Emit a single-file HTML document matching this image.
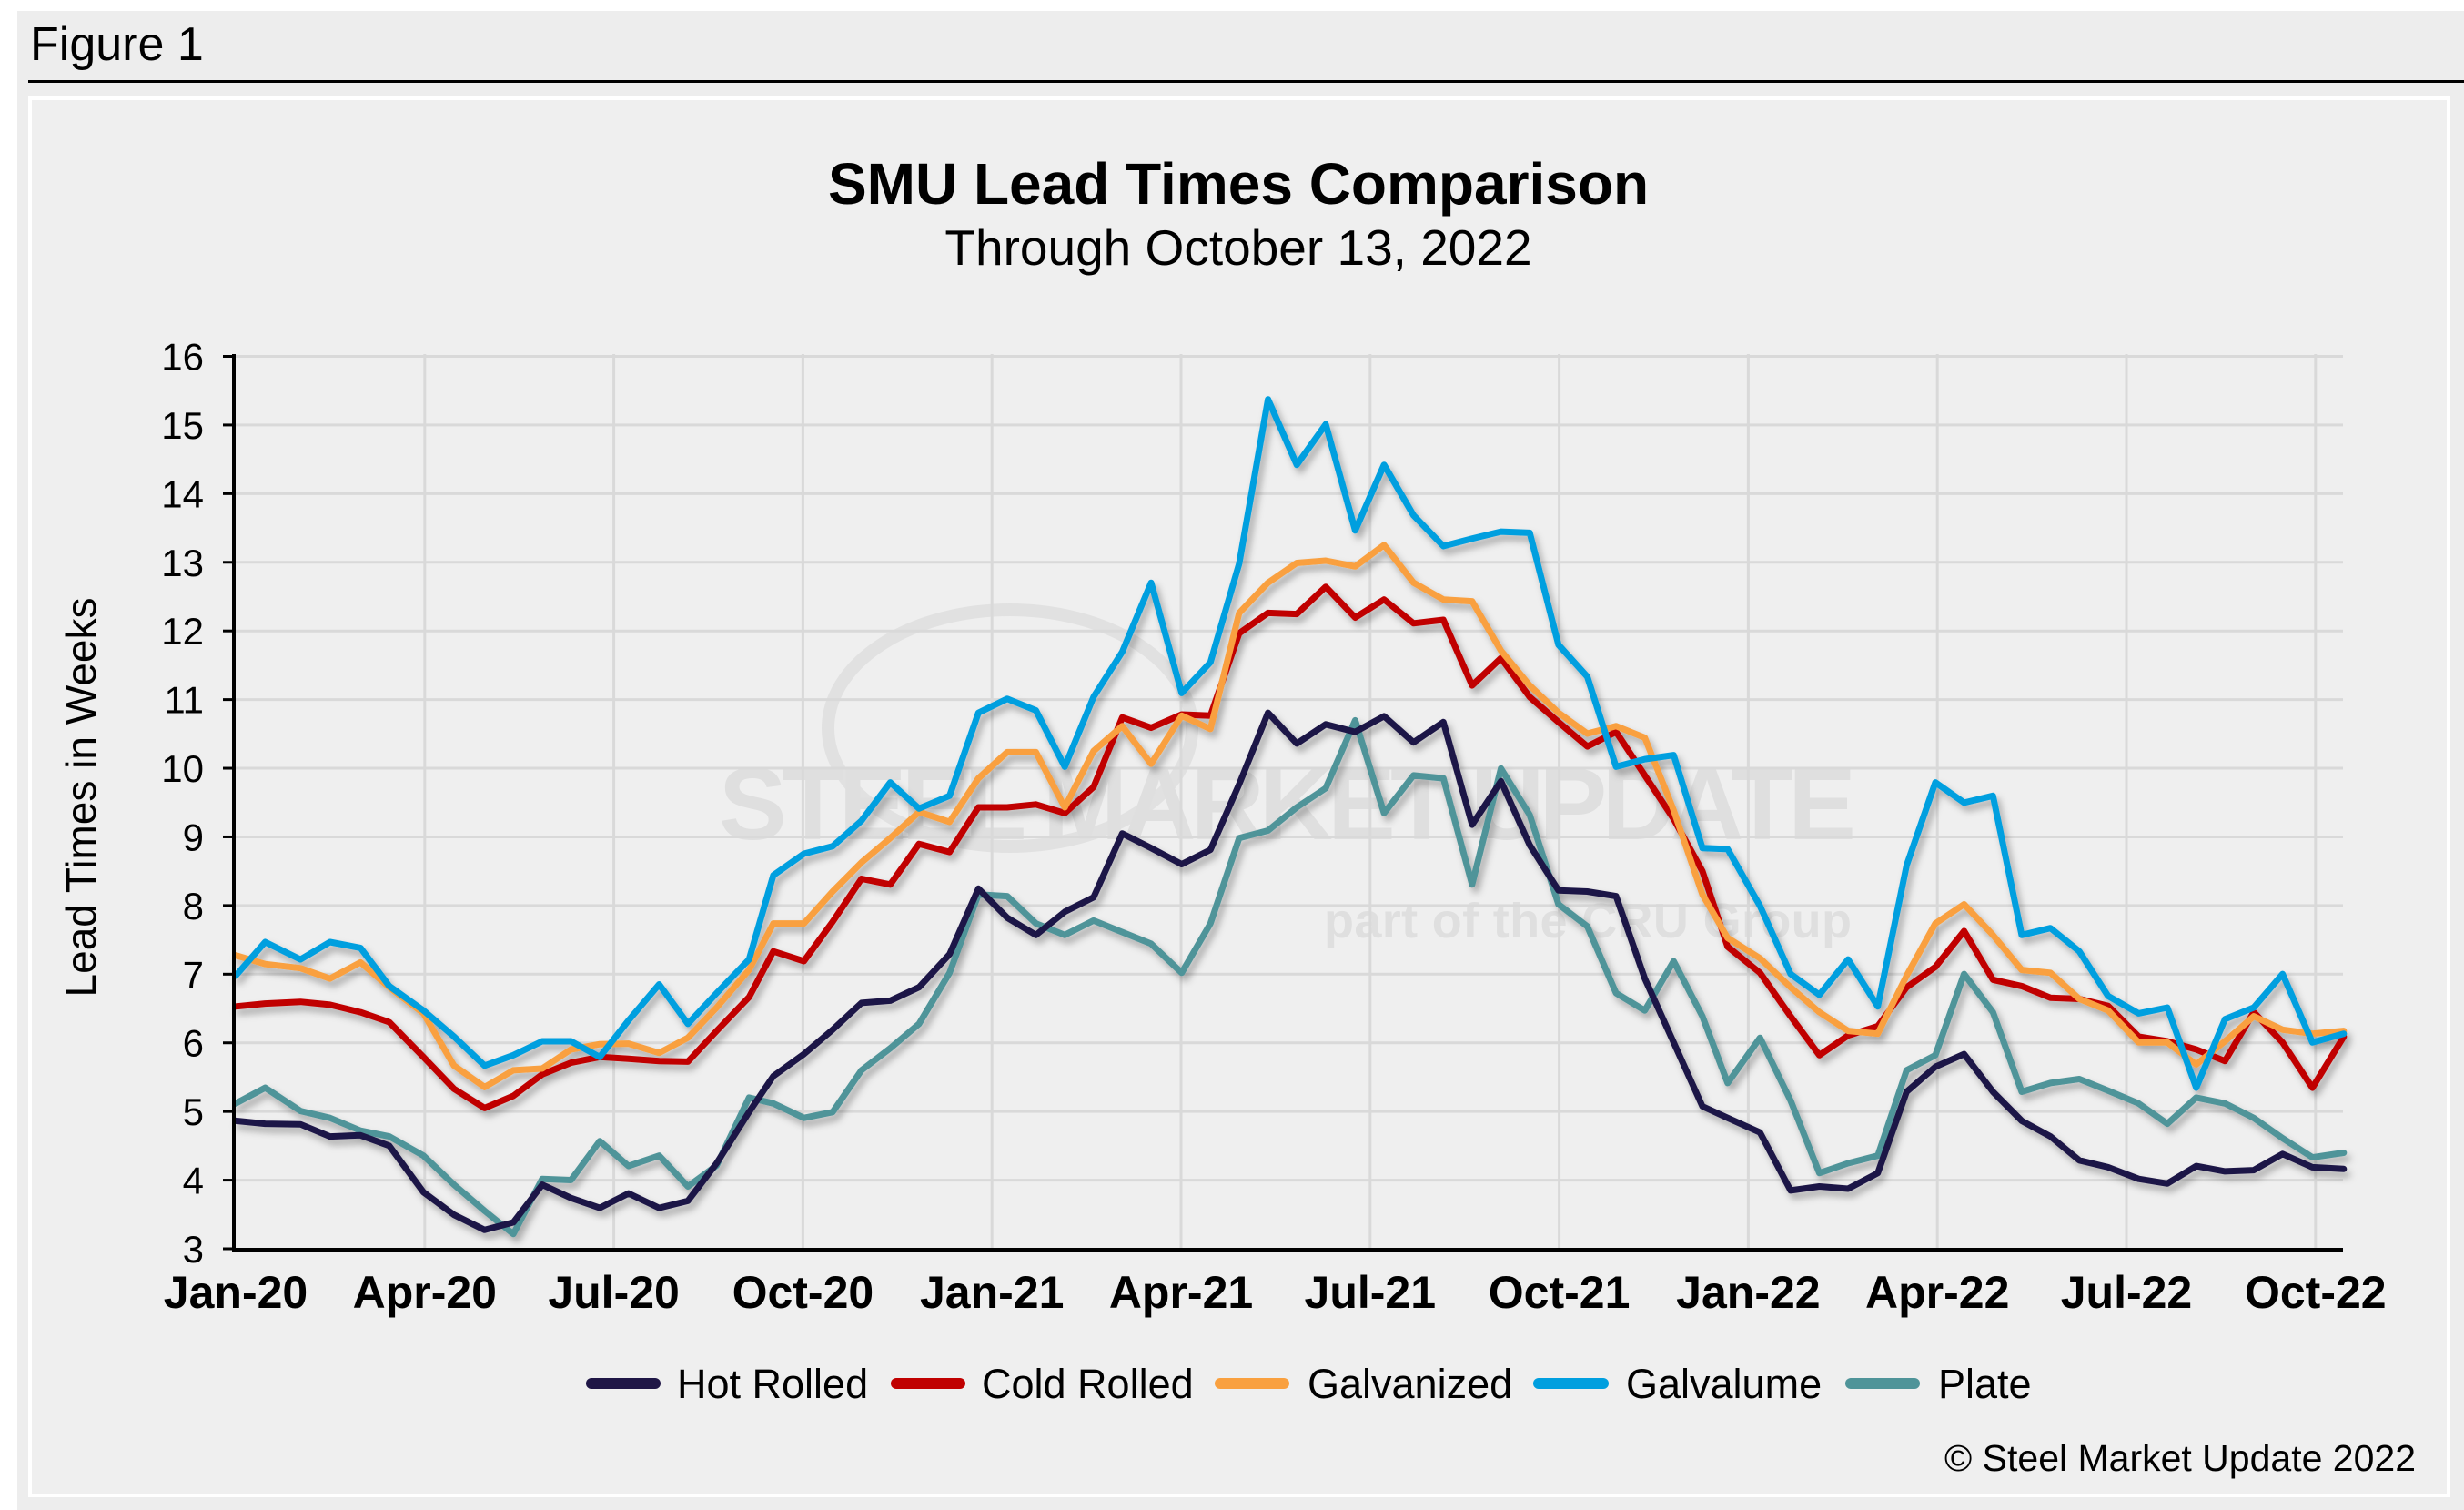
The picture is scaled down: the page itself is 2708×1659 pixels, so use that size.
<!DOCTYPE html>
<html><head><meta charset="utf-8"><style>
html,body{margin:0;padding:0;background:#fff;}
svg{display:block;}
text{font-family:"Liberation Sans",Arial,sans-serif;}
</style></head><body>
<svg id="s" width="2708" height="1659" viewBox="0 0 2708 1659" xmlns="http://www.w3.org/2000/svg">
<defs>
<filter id="sh" x="-5%" y="-5%" width="110%" height="110%">
<feDropShadow dx="4" dy="6" stdDeviation="4" flood-color="#000" flood-opacity="0.3"/>
</filter>
</defs>
<rect x="19" y="12" width="2689" height="1647" fill="#ededed"/>
<text x="33" y="66" font-size="52" fill="#000">Figure 1</text>
<rect x="31" y="88" width="2677" height="3" fill="#000"/>
<rect x="33" y="108" width="2658" height="1535" fill="#efefef" stroke="#fff" stroke-width="4"/>
<text x="1361" y="224" font-size="64" font-weight="bold" text-anchor="middle" fill="#000">SMU Lead Times Comparison</text>
<text x="1361" y="291" font-size="55" text-anchor="middle" fill="#000">Through October 13, 2022</text>
<!-- watermark -->
<g opacity="0.55">
<ellipse cx="1110" cy="800" rx="200" ry="130" fill="none" stroke="#d6d6d6" stroke-width="14"/>
<text x="790" y="922" font-size="112" font-weight="bold" fill="#d3d3d3" textLength="1250">STEEL MARKET UPDATE</text>
<text x="1455" y="1030" font-size="54" font-weight="bold" fill="#d3d3d3" textLength="580">part of the CRU Group</text>
</g>
<g id="grid"></g>
<g id="series" filter="url(#sh)"></g>
<line x1="257" y1="389" x2="257" y2="1373" stroke="#000" stroke-width="4"/>
<line x1="255" y1="1373" x2="2575" y2="1373" stroke="#000" stroke-width="4"/>
<text x="0" y="0" font-size="46" text-anchor="middle" transform="translate(105,876) rotate(-90)">Lead Times in Weeks</text>
<g id="ylab" font-size="42" text-anchor="end"></g>
<g id="xlab" font-size="50" font-weight="bold" text-anchor="middle"></g>
<g font-size="45" fill="#000">
<line x1="650" y1="1520" x2="720" y2="1520" stroke="#1f1646" stroke-width="12" stroke-linecap="round"/>
<text x="744" y="1536">Hot Rolled</text>
<line x1="985" y1="1520" x2="1055" y2="1520" stroke="#c00000" stroke-width="12" stroke-linecap="round"/>
<text x="1079" y="1536">Cold Rolled</text>
<line x1="1341" y1="1520" x2="1411" y2="1520" stroke="#f9a03f" stroke-width="12" stroke-linecap="round"/>
<text x="1437" y="1536">Galvanized</text>
<line x1="1691" y1="1520" x2="1762" y2="1520" stroke="#009fdf" stroke-width="12" stroke-linecap="round"/>
<text x="1787" y="1536">Galvalume</text>
<line x1="2034" y1="1520" x2="2104" y2="1520" stroke="#4f9499" stroke-width="12" stroke-linecap="round"/>
<text x="2130" y="1536">Plate</text>
</g>
<text x="2655" y="1616" font-size="41" text-anchor="end">© Steel Market Update 2022</text>
</svg>
<script>
var NS="http://www.w3.org/2000/svg";
function el(t,a,p){var e=document.createElementNS(NS,t);for(var k in a)e.setAttribute(k,a[k]);p.appendChild(e);return e;}
var grid=document.getElementById('grid'),yl=document.getElementById('ylab'),xl=document.getElementById('xlab');
var y0=1372,dy=(1372-391.5)/13;
for(var v=3;v<=16;v++){var y=y0-(v-3)*dy;
 if(v>3)el('line',{x1:257,y1:y,x2:2575,y2:y,stroke:'#d9d9d9','stroke-width':3},grid);
 el('line',{x1:245,y1:y,x2:257,y2:y,stroke:'#000','stroke-width':3},grid);
 var t=el('text',{x:224,y:y+15},yl);t.textContent=v;}
var labs=["Jan-20","Apr-20","Jul-20","Oct-20","Jan-21","Apr-21","Jul-21","Oct-21","Jan-22","Apr-22","Jul-22","Oct-22"];
var sp=207.8;
for(var i=0;i<12;i++){var x=259+i*sp;
 if(i>0)el('line',{x1:x,y1:389,x2:x,y2:1373,stroke:'#d9d9d9','stroke-width':3},grid);
 var t=el('text',{x:x,y:1437},xl);t.textContent=labs[i];}
var Z={
2:{x0:240,d:{
hr:[[48,1335],[130,1340],[228,1341],[310,1362],[395,1360],[475,1378],[570,1458],[655,1497],[740,1523],[820,1510],[900,1445],[980,1468],[1060,1485],[1140,1460],[1225,1485],[1305,1473],[1385,1408],[1475,1320]],
cr:[[48,1138],[130,1133],[228,1130],[310,1135],[395,1148],[475,1165],[570,1225],[655,1280],[740,1313],[820,1292],[900,1255],[980,1235],[1060,1225],[1140,1228],[1225,1232],[1305,1233],[1385,1180],[1475,1122]],
ga:[[48,1050],[130,1065],[228,1072],[310,1090],[395,1062],[475,1105],[570,1150],[655,1240],[740,1277],[820,1248],[900,1245],[980,1212],[1060,1203],[1140,1202],[1225,1218],[1305,1192],[1385,1140],[1475,1075]],
gl:[[48,1085],[130,1027],[228,1057],[310,1027],[395,1037],[475,1103],[570,1145],[655,1190],[740,1240],[820,1222],[900,1198],[980,1198],[1060,1225],[1140,1162],[1225,1100],[1305,1168],[1385,1115],[1475,1057]],
pl:[[48,1305],[130,1278],[228,1318],[310,1330],[395,1352],[475,1362],[570,1395],[655,1445],[740,1490],[820,1530],[900,1435],[980,1437],[1060,1370],[1140,1413],[1225,1395],[1305,1448],[1385,1412],[1475,1295]]}},
3:{x0:840,d:{
hr:[[25,1258],[110,1220],[190,1178],[270,1132],[350,1128],[430,1105],[515,1048],[595,935],[675,985],[755,1015],[835,975],[915,950],[995,840],[1075,865],[1160,893],[1240,868],[1320,755],[1400,632],[1480,685]],
cr:[[25,1043],[110,1060],[190,992],[270,918],[350,928],[430,858],[515,872],[595,795],[675,795],[755,790],[835,805],[915,760],[995,640],[1075,658],[1160,635],[1240,637],[1320,495],[1400,460],[1480,462]],
ga:[[25,995],[110,995],[190,940],[270,890],[350,848],[430,803],[515,820],[595,745],[675,700],[755,700],[835,795],[915,698],[995,655],[1075,720],[1160,637],[1240,660],[1320,460],[1400,408],[1480,374]],
gl:[[25,912],[110,875],[190,862],[270,818],[350,752],[430,797],[515,775],[595,632],[675,608],[755,628],[835,725],[915,605],[995,527],[1075,408],[1160,598],[1240,545],[1320,375],[1400,92],[1480,205]],
pl:[[25,1305],[110,1330],[190,1320],[270,1248],[350,1210],[430,1168],[515,1080],[595,945],[675,948],[755,995],[835,1015],[915,990],[995,1010],[1075,1030],[1160,1080],[1240,995],[1320,848],[1400,835],[1480,795]]}},
4:{x0:1440,d:{
hr:[[43,652],[125,665],[205,638],[287,683],[370,648],[450,825],[530,750],[610,860],[690,938],[770,940],[850,948],[930,1090],[1010,1200],[1090,1310],[1160,1330],[1250,1355],[1335,1455],[1415,1448],[1495,1452]],
cr:[[43,415],[125,468],[205,437],[287,478],[370,472],[450,585],[530,538],[610,605],[690,648],[770,690],[850,665],[930,740],[1010,815],[1090,905],[1160,1035],[1250,1080],[1335,1155],[1415,1222],[1495,1188]],
ga:[[43,370],[125,380],[205,343],[287,408],[370,437],[450,440],[530,525],[610,585],[690,632],[770,668],[850,655],[930,675],[1010,800],[1090,945],[1160,1020],[1250,1055],[1335,1105],[1415,1148],[1495,1180]],
gl:[[43,135],[125,318],[205,205],[287,292],[370,345],[450,332],[530,320],[610,322],[690,515],[770,570],[850,725],[930,712],[1010,705],[1090,865],[1160,867],[1250,965],[1335,1082],[1415,1118],[1495,1057]],
pl:[[43,762],[125,645],[205,805],[287,740],[370,745],[450,928],[530,728],[610,808],[690,962],[770,1000],[850,1115],[930,1145],[1010,1060],[1090,1155],[1160,1270],[1250,1192],[1335,1300],[1415,1425],[1495,1408]]}},
5:{x0:2040,d:{
hr:[[60,1425],[140,1285],[220,1242],[300,1220],[380,1285],[460,1335],[540,1362],[620,1403],[700,1415],[785,1435],[865,1443],[945,1413],[1025,1422],[1105,1420],[1185,1392],[1268,1415],[1355,1418]],
cr:[[60,1172],[140,1105],[220,1070],[300,1008],[380,1092],[460,1103],[540,1123],[620,1125],[700,1137],[785,1190],[865,1198],[945,1212],[1025,1232],[1105,1148],[1185,1200],[1268,1278],[1355,1190]],
ga:[[60,1185],[140,1085],[220,995],[300,962],[380,1015],[460,1075],[540,1080],[620,1125],[700,1145],[785,1200],[865,1200],[945,1238],[1025,1198],[1105,1155],[1185,1178],[1268,1185],[1355,1180]],
gl:[[60,1138],[140,895],[220,752],[300,787],[380,775],[460,1015],[540,1003],[620,1043],[700,1120],[785,1150],[865,1140],[945,1278],[1025,1160],[1105,1140],[1185,1082],[1268,1200],[1355,1185]],
pl:[[60,1395],[140,1248],[220,1222],[300,1082],[380,1148],[460,1285],[540,1270],[620,1263],[700,1283],[785,1305],[865,1340],[945,1295],[1025,1305],[1105,1330],[1185,1365],[1268,1398],[1355,1390]]}}};
var cols={pl:'#4f9499',gl:'#009fdf',ga:'#f9a03f',cr:'#c00000',hr:'#1f1646'};
var order=['pl','hr','cr','ga','gl'];
var sg=document.getElementById('series');
order.forEach(function(k){var pts=[];[2,3,4,5].forEach(function(z){var o=Z[z];o.d[k].forEach(function(p){pts.push((o.x0+p[0]/2.529).toFixed(1)+','+(380+p[1]/1.568).toFixed(1));});});
 el('polyline',{points:pts.join(' '),fill:'none',stroke:cols[k],'stroke-width':7,'stroke-linejoin':'round','stroke-linecap':'round'},sg);});
</script>
</body></html>
